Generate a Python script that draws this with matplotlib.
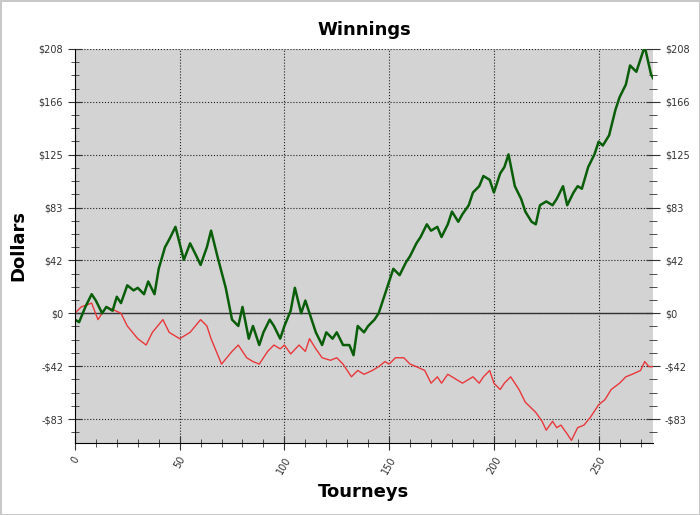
import matplotlib.pyplot as plt
from matplotlib.ticker import MultipleLocator

# green line: total winnings
win_x = [0, 2, 5, 8, 10, 13, 15, 18, 20, 22, 25, 28, 30, 33, 35, 38, 40, 43, 45, 48,
         52, 55, 58, 60, 63, 65, 68, 72, 75, 78, 80, 83, 85, 88, 90, 93, 95, 98, 100,
         103, 105, 108, 110, 113, 115, 118, 120, 123, 125, 128, 131, 133, 135, 138,
         140, 143, 145, 148, 150, 152, 155, 158, 160, 163, 165, 168, 170, 173, 175,
         178, 180, 183, 185, 188, 190, 193, 195, 198, 200, 203, 205, 207, 210, 213,
         215, 218, 220, 222, 225, 228, 230, 233, 235, 238, 240, 242, 245, 248, 250,
         252, 255, 258, 260, 263, 265, 268, 270, 272, 275, 276]
win_y = [-5, -7, 5, 15, 10, 0, 5, 2, 13, 8, 22, 18, 20, 15, 25, 15, 35, 52, 58, 68,
         42, 55, 45, 38, 52, 65, 45, 20, -5, -10, 5, -20, -10, -25, -15, -5, -10, -20, -10,
         2, 20, 0, 10, -5, -15, -25, -15, -20, -15, -25, -25, -33, -10, -15,
         -10, -5, 0, 15, 25, 35, 30, 40, 45, 55, 60, 70, 65, 68, 60,
         70, 80, 72, 78, 85, 95, 100, 108, 105, 95, 110, 115, 125, 100, 90,
         80, 72, 70, 85, 88, 85, 90, 100, 85, 95, 100, 98, 115, 125, 135,
         132, 140, 160, 170, 180, 195, 190, 200, 210, 188, 185]

# red line
red_x = [0, 3, 8, 11, 15, 18, 22, 25, 30, 34, 37, 42, 45, 50, 52, 55, 60, 63, 65, 70,
         75, 78, 82, 85, 88, 92, 95, 98, 100, 103, 107, 110, 112, 115, 118, 122, 125,
         128, 132, 135, 138, 142, 145, 148, 150, 153, 157, 160, 163, 167, 170, 173,
         175, 178, 182, 185, 188, 190, 193, 195, 198, 200, 203, 205, 208, 212, 215,
         220, 223, 225, 228, 230, 232, 235, 237, 240, 243, 246, 250, 253, 256, 260,
         263, 266, 270, 272, 274, 276]
red_y = [0, 5, 8, -5, 5, 3, 0, -10, -20, -25, -15, -5, -15, -20, -18, -15, -5, -10, -20, -40,
         -30, -25, -35, -38, -40, -30, -25, -28, -25, -32, -25, -30, -20, -28, -35, -37, -35,
         -40, -50, -45, -48, -45, -42, -38, -40, -35, -35, -40, -42, -45, -55, -50,
         -55, -48, -52, -55, -52, -50, -55, -50, -45, -55, -60, -55, -50, -60, -70,
         -78, -85, -92, -85, -90, -88, -95, -100, -90, -88, -82, -72, -68, -60, -55,
         -50, -48, -45, -38, -42, -42]

yticks = [-83.2, -41.6, 0, 41.6, 83.2, 124.8, 166.4, 208]
ylabels = ['-$83', '-$42', '$0', '$42', '$83', '$125', '$166', '$208']

fig = plt.figure(figsize=(7, 5.15), dpi=100)
fig.patch.set_edgecolor('#c8c8c8')
fig.patch.set_linewidth(2)
ax = fig.add_axes([0.107, 0.14, 0.826, 0.765])
ax.set_facecolor('#d3d3d3')

ax.axhline(0, color='#333333', lw=1)
ax.plot(red_x, red_y, color='#e8383b', lw=1)
ax.plot(win_x, win_y, color='#0a5e0a', lw=1.8)

ax.set_xlim(0, 276)
ax.set_ylim(-102, 208)
ax.set_xticks([0, 50, 100, 150, 200, 250])
ax.xaxis.set_minor_locator(MultipleLocator(10))
ax.set_yticks(yticks)
ax.set_yticklabels(ylabels)
ax.yaxis.set_minor_locator(MultipleLocator(41.6 / 4))
ax.tick_params(axis='y', which='both', right=True, labelright=True, direction='inout',
               labelsize=7, colors='#333333')
ax.tick_params(axis='y', which='major', length=10)
ax.tick_params(axis='y', which='minor', length=6)
ax.tick_params(axis='x', which='both', direction='inout', labelsize=7, labelrotation=60,
               colors='#333333')
ax.tick_params(axis='x', which='major', length=10)
ax.tick_params(axis='x', which='minor', length=6)
ax.grid(True, which='major', color='#222222', linestyle=':', lw=0.8)
for s in ['top', 'right']:
    ax.spines[s].set_visible(False)

ax.set_title('Winnings', fontsize=13, fontweight='bold', pad=10)
ax.set_xlabel('Tourneys', fontsize=13, fontweight='bold', labelpad=5)
ax.set_ylabel('Dollars', fontsize=13, fontweight='bold', labelpad=8)

fig.savefig('out.png', edgecolor=fig.get_edgecolor())
